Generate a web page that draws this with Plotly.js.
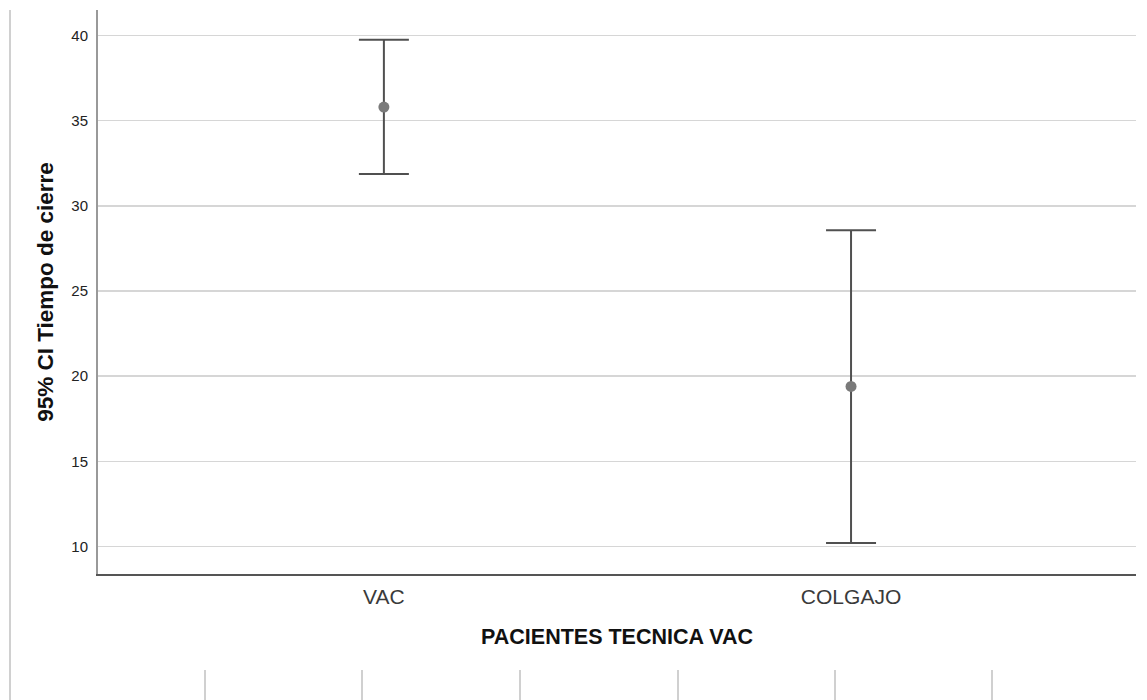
<!DOCTYPE html>
<html>
<head>
<meta charset="utf-8">
<script src="https://cdn.plot.ly/plotly-3.0.1.min.js"></script>
<style>html,body{margin:0;padding:0;background:#fff;}#chart{width:1147px;height:700px;}</style>
</head>
<body>
<div id="chart"></div>
<script>
const categories = ["VAC", "COLGAJO"];
const means = [35.8, 19.4];
const upper = [39.75, 28.57];
const lower = [31.87, 10.2];
const yTicks = [10, 15, 20, 25, 30, 35, 40];

const W = 1147, H = 700, L = 98, R = 11, T = 10, B = 126;
const pw = W - L - R, ph = H - T - B;
const px = x => (x - L) / pw;
const py = y => (H - B - y) / ph;

const trace = {
  type: "scatter",
  mode: "markers",
  x: categories,
  y: means,
  marker: {color: "#7a7a7a", size: 11},
  error_y: {
    type: "data",
    symmetric: false,
    array: means.map((m, i) => upper[i] - m),
    arrayminus: means.map((m, i) => m - lower[i]),
    color: "#505050",
    thickness: 2,
    width: 25
  },
  hoverinfo: "x+y",
  showlegend: false
};

const shapes = [];
shapes.push({type: "line", xref: "paper", yref: "paper", x0: px(10), x1: px(10), y0: py(10), y1: py(700), line: {color: "#d0d0d0", width: 2}});
[205, 362, 520, 678, 835, 992].forEach(x => {
  shapes.push({type: "line", xref: "paper", yref: "paper", x0: px(x), x1: px(x), y0: py(670), y1: py(700), line: {color: "#d0d0d0", width: 2}});
});

const layout = {
  width: W, height: H,
  margin: {l: L, r: R, t: T, b: B},
  paper_bgcolor: "#ffffff",
  plot_bgcolor: "#ffffff",
  font: {family: "Arial, Liberation Sans, sans-serif", color: "#222"},
  xaxis: {
    type: "category",
    range: [-0.612, 1.61],
    showgrid: false,
    zeroline: false,
    showline: true,
    linecolor: "#555",
    linewidth: 1.5,
    ticks: "",
    tickfont: {size: 21, color: "#3a3a3a"},
    ticklabelstandoff: 3,
    title: {text: "<b>PACIENTES TECNICA VAC</b>", font: {size: 21.5, color: "#111"}, standoff: 22}
  },
  yaxis: {
    range: [8.385, 41.5],
    tickvals: yTicks,
    showgrid: true,
    gridcolor: "#d6d6d6",
    gridwidth: 1.5,
    zeroline: false,
    showline: true,
    linecolor: "#999",
    linewidth: 2,
    ticks: "",
    tickfont: {size: 15, color: "#222"},
    ticklabelstandoff: 5,
    title: {text: "<b>95% CI Tiempo de cierre</b>", font: {size: 22.5, color: "#111"}, standoff: 11}
  },
  shapes: shapes
};

Plotly.newPlot("chart", [trace], layout, {displayModeBar: false, staticPlot: true});
</script>
</body>
</html>
